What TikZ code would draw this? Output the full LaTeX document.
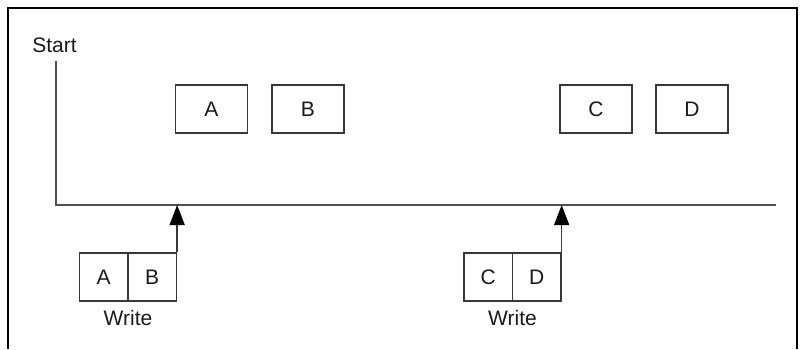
\documentclass[tikz,border=0pt]{standalone}
\usepackage{fontspec}
\setmainfont{Liberation Sans}
\usetikzlibrary{arrows.meta}
\definecolor{timeline}{HTML}{505050}
\definecolor{boxedge}{HTML}{383838}
\definecolor{labeltext}{HTML}{1A1A1A}

\begin{document}
\begin{tikzpicture}[
  x=1pt,
  y=-1pt,
  line join=miter,
  frameline/.style={draw=black,line width=2.6pt},
  axis/.style={draw=timeline,line width=1.4pt},
  databox/.style={draw=boxedge,line width=1.3pt,minimum width=72pt,minimum height=48pt,inner sep=0pt,text=labeltext,font=\fontsize{21}{25}\selectfont},
  writebox/.style={databox,minimum width=48.5pt},
  label/.style={inner sep=0pt,text=labeltext,font=\fontsize{21}{25}\selectfont},
  writearrow/.style={draw=boxedge,line width=1.4pt,-{Triangle[length=20pt,width=15pt,fill=black,color=black]}}
]
  % Keep the reference frame size.
  \useasboundingbox (0,0) rectangle (801,349);

  % Outer frame, open at the bottom.
  \draw[frameline] (8,349) -- (8,8) -- (797,8) -- (797,349);

  % Time line from the start label.
  \node[label] (start) at (54.5,45) {Start};
  \coordinate (axisTop) at (56,61);
  \coordinate (axisCorner) at (56,205);
  \coordinate (axisEnd) at (776,205);
  \draw[axis] (axisTop) -- (axisCorner) -- (axisEnd);

  % Values as they appear on the line.
  \node[databox] (outA) at (211.5,109) {A};
  \node[databox] (outB) at (308,109) {B};
  \node[databox] (outC) at (596,109) {C};
  \node[databox] (outD) at (692,109) {D};

  % Pairs handed to the writes.
  \node[writebox] (inA) at (103.75,277) {A};
  \node[writebox] (inB) at (152.25,277) {B};
  \node[writebox] (inC) at (488.25,277) {C};
  \node[writebox] (inD) at (536.75,277) {D};
  \node[label] (writeAB) at (128,318) {Write};
  \node[label] (writeCD) at (512.5,318) {Write};

  % Writes hit the time line.
  \draw[writearrow] (inB.north east) -- (inB.north east |- axisCorner);
  \draw[writearrow] (inD.north east) -- (inD.north east |- axisCorner);
\end{tikzpicture}
\end{document}
